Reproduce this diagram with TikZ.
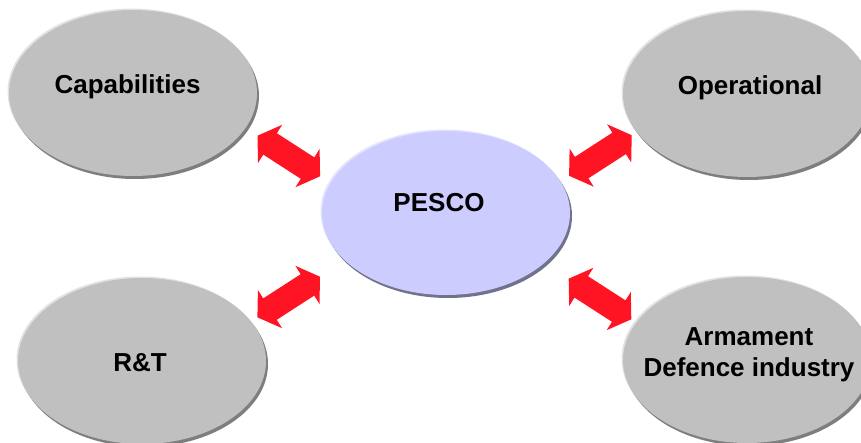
\documentclass[tikz,border=0pt]{standalone}
\usepackage{fontspec}
\setmainfont{Liberation Sans}
\usetikzlibrary{shapes.geometric,shadows}
\definecolor{ellgray}{HTML}{C0C0C0}
\definecolor{ellshadow}{HTML}{7E7E7E}
\definecolor{ellhigh}{HTML}{E2E2E2}
\definecolor{pescofill}{HTML}{CCCCFF}
\definecolor{pescoshadow}{HTML}{72728C}
\definecolor{pescohigh}{HTML}{E4E4FF}
\definecolor{arrowred}{HTML}{FF1424}
\tikzset{
  blob/.style={ellipse, minimum width=248pt, minimum height=166pt, inner sep=0pt,
    fill=ellgray,
    general shadow={fill=ellhigh, shadow xshift=-1.5pt, shadow yshift=1.5pt},
    general shadow={fill=ellshadow, shadow xshift=2pt, shadow yshift=-3pt}},
  pescoblob/.style={ellipse, minimum width=248pt, minimum height=164pt, inner sep=0pt,
    fill=pescofill,
    general shadow={fill=pescohigh, shadow xshift=-1.5pt, shadow yshift=1.5pt},
    general shadow={fill=pescoshadow, shadow xshift=2pt, shadow yshift=-3pt}},
  labeltext/.style={font=\bfseries\fontsize{26}{31}\selectfont, anchor=base,
    align=center, inner sep=0pt},
  dblarrow/.pic={
    \fill[arrowred] (6.65,-31.2) -- (31.3,-20.3) -- (30.8,7) -- (25.5,-1.4)
      -- (-11.96,22.8) -- (-6.65,31.2) -- (-31.3,20.3) -- (-30.8,-7)
      -- (-25.5,1.4) -- (11.96,-22.8) -- cycle;
  }
}
\begin{document}
\begin{tikzpicture}[x=1pt,y=-1pt]
\useasboundingbox (0,0) rectangle (861,443);
\clip (0,0) rectangle (861,443);
% ellipses
\node[blob] (cap) at (133,93) {};
\node[blob] (ope) at (747,94) {};
\node[pescoblob] (pesco) at (446,213) {};
\node[blob] (rt) at (142,361) {};
\node[blob] (arm) at (747,360) {};
% texts
\node[labeltext] (capT) at (127.5,94) {Capabilities};
\node[labeltext] (opeT) at (750,95) {Operational};
\node[labeltext] (pescoT) at (439,212) {PESCO};
\node[labeltext] (rtT) at (140,371.5) {R\&T};
\node[labeltext] (armT) at (749,376) {Armament\\Defence industry};
% double block arrows
\coordinate (a1) at (288.8,156);
\coordinate (a2) at (288.7,297);
\coordinate (a3) at (600.4,155.5);
\coordinate (a4) at (600,299);
\pic[yscale=-1] at (a1) {dblarrow};
\pic at (a2) {dblarrow};
\pic at (a3) {dblarrow};
\pic[yscale=-1] at (a4) {dblarrow};
\end{tikzpicture}
\end{document}
